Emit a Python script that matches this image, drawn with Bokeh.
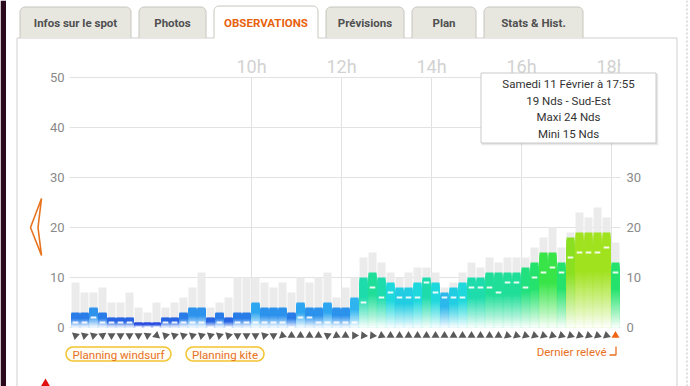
import math
from bokeh.plotting import figure
from bokeh.models import Range1d
from bokeh.core.properties import value
from bokeh.embed import file_html
from bokeh.resources import INLINE

# ------------------------------------------------------------------ data
times = ["06:00", "06:12", "06:24", "06:36", "06:48",
         "07:00", "07:12", "07:24", "07:36", "07:48",
         "08:00", "08:12", "08:24", "08:36", "08:48",
         "09:00", "09:12", "09:24", "09:36", "09:48",
         "10:00", "10:12", "10:24", "10:36", "10:48",
         "11:00", "11:12", "11:24", "11:36", "11:48",
         "12:00", "12:12", "12:24", "12:36", "12:48",
         "13:00", "13:12", "13:24", "13:36", "13:48",
         "14:00", "14:12", "14:24", "14:36", "14:48",
         "15:00", "15:12", "15:24", "15:36", "15:48",
         "16:00", "16:12", "16:24", "16:36", "16:48",
         "17:00", "17:12", "17:24", "17:36", "17:48",
         "18:00"]
wind_mean = [3, 3, 4, 3, 2, 2, 2, 1, 1, 1, 2, 2, 3, 4, 4,
             2, 3, 2, 3, 3, 5, 4, 4, 4, 3, 5, 4, 4, 5, 4,
             4, 6, 10, 11, 10, 9, 8, 8, 9, 10, 9, 7, 8, 9, 10,
             10, 11, 11, 11, 11, 12, 13, 15, 15, 13, 18, 19, 19, 19, 19, 13]
wind_max = [9, 7, 7, 8, 5, 5, 7, 4, 3, 5, 4, 5, 6, 8, 11,
            4, 5, 6, 10, 10, 10, 9, 8, 9, 7, 10, 9, 10, 11, 6,
            8, 10, 14, 15, 13, 11, 10, 11, 12, 12, 11, 8, 9, 11, 13,
            12, 14, 13, 14, 14, 14, 16, 18, 20, 16, 19, 23, 22, 24, 22, 17]
wind_min = [1, 1, 2, 1, 1, 1, 1, 0, 0, 0, 1, 1, 1, 1, 1,
            0, 1, 0, 1, 1, 1, 1, 1, 1, 0, 2, 2, 1, 1, 1,
            1, 1, 5, 8, 6, 7, 6, 6, 6, 9, 7, 6, 6, 6, 8,
            8, 8, 7, 9, 9, 8, 10, 11, 12, 11, 14, 15, 15, 15, 16, 11]
# arrow heading, degrees clockwise from north
wind_dir = [70, 70, 70, 175, 180, 180, 180, 180, 185, 250,
            75, 70, 70, 70, 70, 70, 70, 75, 180, 180,
            180, 75, 180, 230, 0, 0, 0, 0, 185, 235,
            0, 90, 95, 95, 235, 240, 240, 0, 0, 0,
            0, 0, 0, 0, 0, 0, 0, 0, 110, 110,
            110, 110, 110, 110, 110, 110, 110, 110, 110, 110,
            0]
y_ticks_left = [0, 10, 20, 30, 40, 50]
y_ticks_right = [0, 10, 20, 30]
hour_ticks = [10, 12, 14, 16, 18]
hour_labels = ["10h", "12h", "14h", "16h", "18h"]
tab_labels = ["Infos sur le spot", "Photos", "OBSERVATIONS", "Prévisions", "Plan", "Stats & Hist."]
active_tab = "OBSERVATIONS"
planning_labels = ["Planning windsurf", "Planning kite"]
last_label = "Dernier relevé"
tooltip_when = "Samedi 11 Février à 17:55"
tooltip_dir_name = "Sud-Est"
tooltip_idx = 58
unit = "Nds"

# ------------------------------------------------------------------ layout (window pixels)
W, H = 690, 386
M = 0
X0_PX, X0_H, PX_PER_H = 71, 6.0, 45.0
Y0_PX, PX_PER_KT = 327, 5.0
BAR_PX = 8
FRAME_L, FRAME_R = 69, 620
ARROW_Y = 335
FONT = value("Roboto")

hours = [int(s[:2]) + int(s[3:]) / 60 for s in times]
bar_w = BAR_PX / PX_PER_H

x_rng = Range1d(X0_H + (M - X0_PX) / PX_PER_H, X0_H + (M + W - X0_PX) / PX_PER_H)
y_rng = Range1d((Y0_PX - (M + H)) / PX_PER_KT, (Y0_PX - M) / PX_PER_KT)

p = figure(width=W, height=H, x_range=x_rng, y_range=y_rng,
           output_backend="svg", toolbar_location=None, min_border=0,
           x_axis_location=None, y_axis_location=None, outline_line_color=None,
           background_fill_color="white", border_fill_color="white")
p.xgrid.visible = False
p.ygrid.visible = False
p.extra_x_ranges = {"px": Range1d(M, M + W)}
p.extra_y_ranges = {"px": Range1d(M + H, M)}
PX = dict(x_range_name="px", y_range_name="px")


def arc(cx, cy, r, a0, a1, n=6):
    return [(cx + r * math.cos(math.radians(a0 + (a1 - a0) * i / n)),
             cy + r * math.sin(math.radians(a0 + (a1 - a0) * i / n))) for i in range(n + 1)]


def rounded(x0, y0, x1, y1, rt, rb):
    pts = arc(x0 + rt, y0 + rt, rt, 180, 270) + arc(x1 - rt, y0 + rt, rt, 270, 360) \
        + arc(x1 - rb, y1 - rb, rb, 0, 90) + arc(x0 + rb, y1 - rb, rb, 90, 180)
    return [q[0] for q in pts], [q[1] for q in pts]


def hexmix(rgb, a):
    c = [round(255 - (255 - v) * a) for v in rgb]
    return "#%02x%02x%02x" % tuple(c)


COLOR_STOPS = [(1, (42, 77, 223)), (2, (42, 102, 227)), (3, (42, 125, 232)), (4, (44, 146, 236)),
               (5, (47, 166, 240)), (6, (48, 180, 240)), (7, (44, 184, 234)), (8, (34, 205, 226)),
               (9, (30, 216, 220)), (10, (31, 220, 172)), (11, (32, 222, 152)), (12, (34, 224, 126)),
               (13, (36, 226, 108)), (15, (56, 228, 72)), (18, (138, 224, 32)), (19, (160, 226, 30))]


def speed_rgb(v):
    if v <= COLOR_STOPS[0][0]:
        return COLOR_STOPS[0][1]
    for (a, ca), (b, cb) in zip(COLOR_STOPS, COLOR_STOPS[1:]):
        if a <= v <= b:
            t = (v - a) / (b - a)
            return tuple(ca[i] + (cb[i] - ca[i]) * t for i in range(3))
    return COLOR_STOPS[-1][1]


# ------------------------------------------------------------------ page chrome
BORDER = "#cfcfcf"
p.quad(left=[0], right=[5.5], top=[0], bottom=[H], fill_color="#2b0a1d", line_color=None, **PX)
p.segment(x0=[16.5, 16.5, 676.5], y0=[37.5, 37.5, 37.5], x1=[16.5, 676.5, 676.5], y1=[H, 37.5, H],
          line_color=BORDER, line_width=1, **PX)
p.segment(x0=[686.5], y0=[0], x1=[686.5], y1=[H], line_color="#bdbdbd", line_dash="2 2", **PX)

tab_x = [(19, 130), (138, 205), (213, 317), (325, 403), (411, 475), (483, 582)]
for (x0, x1), lab in zip(tab_x, tab_labels):
    act = lab == active_tab
    y0 = 5.5 if act else 6.5
    y1 = 38.5 if act else 37.5
    xs, ys = rounded(x0 + 0.5, y0, x1 + 0.5, y1, 5, 0)
    p.patch(xs, ys, fill_color="white" if act else "#e7e7e0", line_color=None, **PX)
    top = arc(x0 + 5.5, y0 + 5, 5, 180, 270) + arc(x1 - 4.5, y0 + 5, 5, 270, 360)
    lx = [x0 + 0.5] + [q[0] for q in top] + [x1 + 0.5]
    ly = [37.5] + [q[1] for q in top] + [37.5]
    p.line(lx, ly, line_color="#c6c6be", line_width=1, **PX)
    p.text(x=[(x0 + x1) / 2 + 0.5], y=[22], text=[lab], text_font=FONT, text_font_size="11.5px",
           text_font_style="bold", text_color="#e8620e" if act else "#505050",
           text_align="center", text_baseline="middle", **PX)

# ------------------------------------------------------------------ grid & axes
p.segment(x0=[FRAME_L] * len(y_ticks_left), x1=[FRAME_R] * len(y_ticks_left),
          y0=y_ticks_left, y1=y_ticks_left, line_color="#e2e2e2", line_width=1,
          x_range_name="px")
p.segment(x0=hour_ticks, x1=hour_ticks, y0=[0] * len(hour_ticks), y1=[max(y_ticks_left)] * len(hour_ticks),
          line_color="#e2e2e2", line_width=1)
p.text(x=hour_ticks, y=[66] * len(hour_ticks), text=hour_labels, text_font=FONT, text_font_size="18px",
       text_color="#d2d2d2", text_align="center", text_baseline="middle", y_range_name="px")
# plot-area clip of the last hour label
p.quad(left=[FRAME_R], right=[675.5], top=[50], bottom=[76], fill_color="white", line_color=None, **PX)

p.text(x=[64] * len(y_ticks_left), y=y_ticks_left, text=[str(t) for t in y_ticks_left], text_font=FONT,
       text_font_size="13px", text_color="#8a8a8a", text_align="right", text_baseline="middle",
       x_range_name="px")
p.text(x=[626] * len(y_ticks_right), y=y_ticks_right, text=[str(t) for t in y_ticks_right], text_font=FONT,
       text_font_size="13px", text_color="#8a8a8a", text_align="left", text_baseline="middle",
       x_range_name="px")

# ------------------------------------------------------------------ bars
p.quad(left=hours, right=[h + bar_w for h in hours], bottom=[0] * len(hours), top=wind_max,
       fill_color="#ebebeb", line_color=None)

N = 36
gl, gr, gt, gc = [], [], [], []
for h, m in zip(hours, wind_mean):
    rgb = speed_rgb(m)
    for s in reversed(range(N)):
        f = (s + 0.5) / N
        a = max(0.03, min(1.0, f / 0.6) ** 0.9)
        gl.append(h)
        gr.append(h + bar_w)
        gt.append(m * (s + 1) / N)
        gc.append(hexmix(rgb, a))
p.quad(left=gl, right=gr, bottom=[0] * len(gl), top=gt, fill_color=gc, line_color=None)

p.segment(x0=[h + 1.2 / PX_PER_H for h in hours], x1=[h + bar_w - 1.2 / PX_PER_H for h in hours],
          y0=wind_min, y1=wind_min, line_color="white", line_width=2, line_alpha=0.9)

# direction arrows
last = len(hours) - 1
p.scatter(x=[h + bar_w / 2 for h in hours], y=[ARROW_Y] * len(hours), marker="triangle", size=8,
          angle=[-math.radians(d) for d in wind_dir],
          fill_color=["#f06414" if i == last else "#5a5a5a" for i in range(len(hours))],
          line_color=None, y_range_name="px")

# ------------------------------------------------------------------ buttons / labels
pill_x = [(65.5, 170.5), (185.5, 263.5)]
for (x0, x1), lab in zip(pill_x, planning_labels):
    xs, ys = rounded(x0, 346.5, x1, 360.5, 7, 7)
    p.patch(xs, ys, fill_color="#fffdf4", line_color="#f2c431", line_width=1.5, **PX)
    p.text(x=[(x0 + x1) / 2], y=[354], text=[lab], text_font=FONT, text_font_size="11.5px",
           text_color="#e8701e", text_align="center", text_baseline="middle", **PX)

p.text(x=[606], y=[351], text=[last_label], text_font=FONT, text_font_size="11.5px",
       text_color="#e8701e", text_align="right", text_baseline="middle", **PX)
p.line([609, 615.5, 615.5], [354.5, 354.5, 346], line_color="#e8701e", line_width=1.3, **PX)

p.patch([41, 30, 41, 37.5], [198, 227, 255, 227], fill_color="white", line_color="#e8731e",
        line_width=1.6, **PX)
p.scatter(x=[45], y=[386], marker="triangle", size=14, fill_color="#e01010", line_color=None, **PX)

# ------------------------------------------------------------------ tooltip
p.quad(left=[481], right=[658], top=[73], bottom=[145], fill_color="black", fill_alpha=0.05, line_color=None, **PX)
p.quad(left=[481], right=[657], top=[73], bottom=[144], fill_color="black", fill_alpha=0.07, line_color=None, **PX)
p.quad(left=[480.5], right=[655.5], top=[72.5], bottom=[142.5], fill_color="white", line_color="#cacaca",
       line_width=1, **PX)
tip_lines = [tooltip_when,
             "%d %s - %s" % (wind_mean[tooltip_idx], unit, tooltip_dir_name),
             "Maxi %d %s" % (wind_max[tooltip_idx], unit),
             "Mini %d %s" % (wind_min[tooltip_idx], unit)]
p.text(x=[568] * 4, y=[83.5, 100, 116.5, 133], text=tip_lines, text_font=FONT, text_font_size="11.5px",
       text_color="#333333", text_align="center", text_baseline="middle", **PX)

open("out.html", "w").write(file_html(p, INLINE))
